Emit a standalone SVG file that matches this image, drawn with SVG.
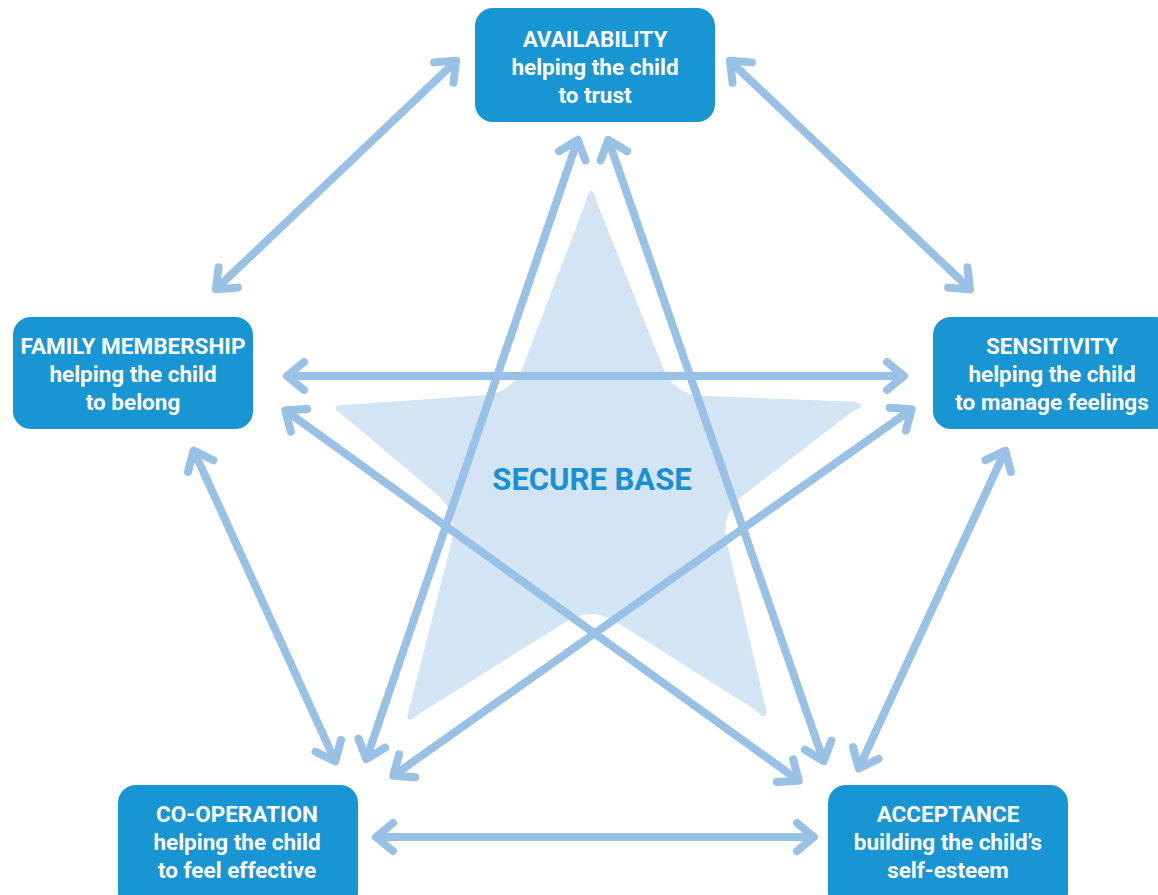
<svg xmlns="http://www.w3.org/2000/svg" width="1158" height="895" viewBox="0 0 1158 895">
<style>
.box{fill:#1895d3}
.lbl{font-family:Roboto,"Liberation Sans",sans-serif;font-weight:700;font-size:22.5px;fill:#ffffff;text-anchor:middle}
.con{fill:none;stroke:#98c1e5;stroke-width:8;marker-start:url(#ah);marker-end:url(#ah)}
.star{fill:#d3e4f4}
.sb{font-family:Roboto,"Liberation Sans",sans-serif;font-weight:700;font-size:31px;fill:#1a8fd1;text-anchor:middle}
</style>
<defs>
<marker id="ah" markerUnits="userSpaceOnUse" viewBox="-30 -30 40 60" markerWidth="40" markerHeight="60" refX="0" refY="0" orient="auto-start-reverse" overflow="visible">
<polyline points="-17,-14 0,0 -17,14" fill="none" stroke="#98c1e5" stroke-width="8" stroke-linecap="round" stroke-linejoin="round"/>
</marker>
</defs>
<rect width="1158" height="895" fill="#ffffff"/>
<g id="star">
<path class="star" d="M 585.3,203 Q 591,178 597,202.8 L 662.8,367.2 Q 674,395 704,396.1 L 849,401.4 Q 872,403 852.3,411.7 L 743.8,494.8 Q 720,513 726.8,542.2 L 764.4,702.4 Q 771,726 754.5,709.4 L 616.4,622.1 Q 591,606 565.6,621.9 L 419.6,713.5 Q 402,729 409.9,706.5 L 451.6,542.1 Q 459,513 436.1,493.7 L 344.2,416.3 Q 325,404 348,404.8 L 483.1,395.2 Q 513,393 523.7,365 Z"/>
<text class="sb" x="592" y="490">SECURE BASE</text>
</g>
<g id="connectors">
<line class="con" x1="456.1" y1="60.8" x2="215.9" y2="289.2"/>
<line class="con" x1="729.9" y1="60.8" x2="970.1" y2="289.2"/>
<line class="con" x1="287" y1="376" x2="904" y2="376"/>
<line class="con" x1="285.2" y1="410.3" x2="798.8" y2="780.7"/>
<line class="con" x1="911.7" y1="409.3" x2="393.3" y2="775.7"/>
<line class="con" x1="577.7" y1="139.8" x2="366.3" y2="759.2"/>
<line class="con" x1="608.3" y1="139.8" x2="823.7" y2="761.2"/>
<line class="con" x1="193.7" y1="450.6" x2="335.3" y2="761.4"/>
<line class="con" x1="1005.3" y1="450.6" x2="858.7" y2="768.4"/>
<line class="con" x1="376" y1="837" x2="814" y2="837"/>
</g>
<g id="availability">
<rect class="box" x="475" y="8" width="240" height="114" rx="18"/>
<text class="lbl" x="595" y="47">AVAILABILITY</text>
<text class="lbl" x="595" y="75">helping the child</text>
<text class="lbl" x="595" y="103">to trust</text>
</g>
<g id="family">
<rect class="box" x="13" y="317" width="240" height="112" rx="18"/>
<text class="lbl" x="133" y="354">FAMILY MEMBERSHIP</text>
<text class="lbl" x="133" y="382">helping the child</text>
<text class="lbl" x="133" y="410">to belong</text>
</g>
<g id="sensitivity">
<rect class="box" x="933" y="317" width="240" height="112" rx="18"/>
<text class="lbl" x="1052" y="354">SENSITIVITY</text>
<text class="lbl" x="1052" y="382">helping the child</text>
<text class="lbl" x="1052" y="410">to manage feelings</text>
</g>
<g id="cooperation">
<rect class="box" x="118" y="785" width="240" height="125" rx="18"/>
<text class="lbl" x="237" y="822">CO-OPERATION</text>
<text class="lbl" x="237" y="850">helping the child</text>
<text class="lbl" x="237" y="878">to feel effective</text>
</g>
<g id="acceptance">
<rect class="box" x="828" y="785" width="240" height="125" rx="18"/>
<text class="lbl" x="948" y="822">ACCEPTANCE</text>
<text class="lbl" x="948" y="850">building the child’s</text>
<text class="lbl" x="948" y="878">self-esteem</text>
</g>
</svg>
